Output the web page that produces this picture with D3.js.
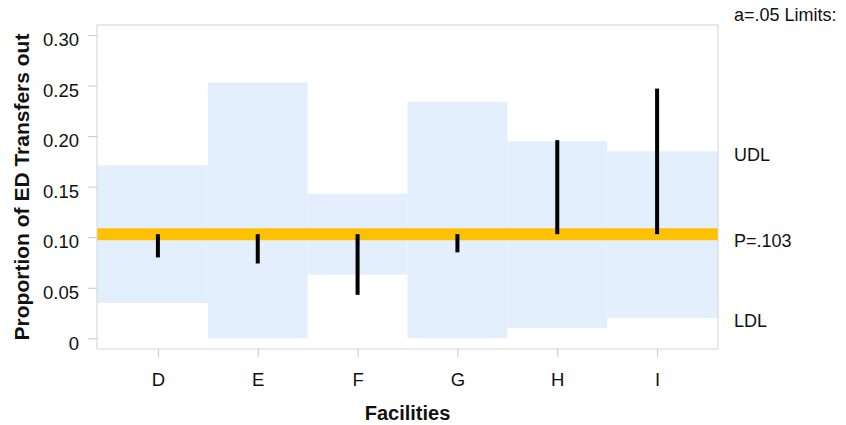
<!DOCTYPE html>
<html>
<head>
<meta charset="utf-8">
<script src="https://cdn.jsdelivr.net/npm/d3@7"></script>
<style>
  html, body { margin: 0; padding: 0; background: #fff; }
  svg { display: block; font-family: "Liberation Sans", Arial, sans-serif; }
</style>
</head>
<body>
<svg id="chart" width="846" height="425"></svg>
<script>
const categories = ["D", "E", "F", "G", "H", "I"];
const observed = [0.080, 0.074, 0.043, 0.085, 0.196, 0.247];
const udl = [0.171, 0.253, 0.143, 0.234, 0.195, 0.185];
const ldl = [0.035, 0.000, 0.063, 0.000, 0.010, 0.020];
const pBar = 0.103;
const yTicks = [0, 0.05, 0.10, 0.15, 0.20, 0.25, 0.30];
const yTickLabels = ["0", "0.05", "0.10", "0.15", "0.20", "0.25", "0.30"];
const rightLabels = [
  { text: "UDL", v: 0.182 },
  { text: "P=.103", v: 0.097 },
  { text: "LDL", v: 0.017 }
];

const svg = d3.select("#chart");
const L = 97, R = 718, T = 25, B = 349;

const x = d3.scaleLinear().domain([-0.61, categories.length - 1 + 0.61]).range([L, R]);
const y = d3.scaleLinear().domain([-0.0106, 0.3099]).range([B, T]);

// bands
svg.append("g").selectAll("rect").data(categories).join("rect")
  .attr("x", (d, i) => i === 0 ? L : x(i - 0.5))
  .attr("width", (d, i) => (i === categories.length - 1 ? R : x(i + 0.5)) - (i === 0 ? L : x(i - 0.5)))
  .attr("y", (d, i) => y(udl[i]))
  .attr("height", (d, i) => y(ldl[i]) - y(udl[i]))
  .attr("fill", "#e4effd");

// P line
svg.append("line")
  .attr("x1", L).attr("x2", R)
  .attr("y1", y(pBar)).attr("y2", y(pBar))
  .attr("stroke", "#fdc100").attr("stroke-width", 12);

// observed bars
svg.append("g").selectAll("rect").data(categories).join("rect")
  .attr("x", (d, i) => x(i) - 2)
  .attr("width", 4)
  .attr("y", (d, i) => y(Math.max(observed[i], pBar)))
  .attr("height", (d, i) => Math.abs(y(observed[i]) - y(pBar)))
  .attr("fill", "#000");

// frame
svg.append("rect")
  .attr("x", L).attr("y", T).attr("width", R - L).attr("height", B - T)
  .attr("fill", "none").attr("stroke", "#d4d4d4").attr("stroke-width", 1);

// y axis
const yAxis = svg.append("g").attr("transform", `translate(${L},0)`)
  .call(d3.axisLeft(y).tickValues(yTicks).tickFormat((d, i) => yTickLabels[i]).tickSize(9).tickPadding(9));
yAxis.select(".domain").remove();
yAxis.selectAll(".tick line").attr("stroke", "#c8c8c8");
yAxis.selectAll(".tick text").attr("font-size", 18.5).attr("dy", "0.58em").attr("fill", "#111")
  .attr("font-family", "Liberation Sans, Arial, sans-serif");

// x axis
const xAxis = svg.append("g").attr("transform", `translate(0,${B})`)
  .call(d3.axisBottom(x).tickValues(d3.range(categories.length)).tickFormat(i => categories[i]).tickSize(8).tickPadding(16));
xAxis.select(".domain").remove();
xAxis.selectAll(".tick line").attr("stroke", "#c8c8c8");
xAxis.selectAll(".tick text").attr("font-size", 18.5).attr("fill", "#111")
  .attr("font-family", "Liberation Sans, Arial, sans-serif");

// titles
svg.append("text")
  .attr("x", (L + R) / 2).attr("y", 420)
  .attr("text-anchor", "middle").attr("font-size", 20).attr("font-weight", "bold").attr("fill", "#111")
  .text("Facilities");

svg.append("text")
  .attr("transform", `translate(29,${(T + B) / 2}) rotate(-90)`)
  .attr("text-anchor", "middle").attr("font-size", 21).attr("font-weight", "bold").attr("fill", "#111")
  .text("Proportion of ED Transfers out");

// right labels
svg.append("text")
  .attr("x", 734).attr("y", 21).attr("font-size", 18).attr("fill", "#111")
  .text("a=.05 Limits:");
svg.append("g").selectAll("text").data(rightLabels).join("text")
  .attr("x", 734).attr("y", d => y(d.v)).attr("dy", "0.35em")
  .attr("font-size", 18).attr("fill", "#111")
  .text(d => d.text);
</script>
</body>
</html>
